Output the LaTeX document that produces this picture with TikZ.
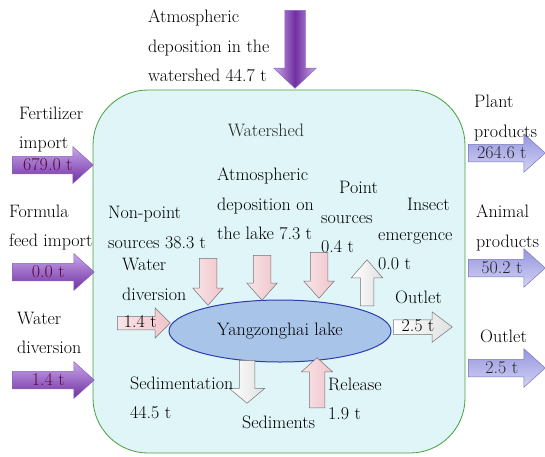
\documentclass[tikz,border=0pt]{standalone}
\usetikzlibrary{shapes.geometric,shapes.arrows}
\definecolor{shedfill}{RGB}{223,245,247}
\definecolor{shedline}{RGB}{70,160,60}
\definecolor{lakefill}{RGB}{168,196,232}
\definecolor{lakeline}{RGB}{45,60,170}
\definecolor{purplelt}{RGB}{200,165,235}
\definecolor{purpledk}{RGB}{112,48,160}
\definecolor{purpleln}{RGB}{140,100,190}
\definecolor{purpletx}{RGB}{90,10,60}
\definecolor{bluedk}{RGB}{150,150,222}
\definecolor{bluelt}{RGB}{210,210,246}
\definecolor{blueln}{RGB}{120,120,190}
\definecolor{pinkfl}{RGB}{240,196,202}
\definecolor{arrgray}{RGB}{115,115,115}
\tikzset{
  lbl/.style={inner sep=0pt,align=left,anchor=west},
  blk/.style n args={3}{single arrow,anchor=tail,draw,line width=.5pt,
    minimum height=#1,inner ysep=#2,single arrow head extend=#3,inner xsep=1pt},
  notext/.style={text height=0pt,text depth=0pt,inner xsep=0pt},
  bigtxt/.style={text height=12pt,text depth=2pt},
  smalltxt/.style={text height=10pt,text depth=1pt},
  purplefill/.style={draw=purpleln,top color=purplelt,bottom color=purpledk,text=purpletx},
  bluefill/.style={draw=blueln,top color=bluedk,bottom color=bluelt,text=black!85},
  pinkfill/.style={draw=arrgray,left color=pinkfl!45!white,right color=pinkfl},
  whitefill/.style={draw=arrgray,left color=white,right color=black!12}
}
\begin{document}
\begin{tikzpicture}[x=1pt,y=1pt,font=\fontsize{18}{29.5}\selectfont]
  \useasboundingbox (0,0) rectangle (545,-456);
  % watershed and lake
  \node[draw=shedline,fill=shedfill,line width=.8pt,rounded corners=55pt,
    minimum width=372pt,minimum height=363pt] (shed) at (279,-271.5) {};
  \node[text=black!85] (wsh) at (266,-130) {Watershed};
  \node[ellipse,draw=lakeline,fill=lakefill,line width=1pt,
    minimum width=222pt,minimum height=62pt,inner sep=0pt] (lake) at (280,-331) {Yangzonghai lake};

  % inputs and outputs of the watershed
  \node[blk={78pt}{10pt}{11pt},notext,rotate=-90,draw=purpleln,left color=purplelt,
    right color=purplelt,middle color=purpledk,single arrow tip angle=93] (atmwarr) at (295,-10) {};
  \node[blk={81pt}{1.5pt}{9.5pt},bigtxt,purplefill,single arrow tip angle=84] (fertarr) at (12,-165) {679.0 t};
  \node[blk={82pt}{1.5pt}{9.5pt},bigtxt,purplefill,single arrow tip angle=84] (feedarr) at (12,-272) {0.0 t};
  \node[blk={82pt}{1.5pt}{9.5pt},bigtxt,purplefill,single arrow tip angle=84] (wdarr) at (12,-380) {1.4 t};
  \node[blk={77pt}{1.5pt}{10.5pt},bigtxt,bluefill,single arrow tip angle=84] (plantarr) at (468,-153) {264.6 t};
  \node[blk={77pt}{1.5pt}{10.5pt},bigtxt,bluefill,single arrow tip angle=84] (animalarr) at (468,-268) {50.2 t};
  \node[blk={77pt}{1.5pt}{10.5pt},bigtxt,bluefill,single arrow tip angle=84] (outarr) at (468,-368) {2.5 t};

  % fluxes of the lake
  \node[blk={47pt}{8.5pt}{6.5pt},notext,rotate=-90,pinkfill,single arrow tip angle=83] (nparr) at (208,-258) {};
  \node[blk={45pt}{8.5pt}{6.5pt},notext,rotate=-90,pinkfill,single arrow tip angle=83] (atmlarr) at (262,-255) {};
  \node[blk={46pt}{8.5pt}{6.5pt},notext,rotate=-90,pinkfill,single arrow tip angle=83] (psarr) at (319,-252) {};
  \node[blk={46pt}{6.5pt}{9pt},notext,rotate=90,whitefill,single arrow tip angle=82] (insarr) at (367,-306) {};
  \node[blk={53pt}{1pt}{8.5pt},smalltxt,pinkfill,single arrow tip angle=90] (wdinarr) at (117,-323) {1.4 t};
  \node[blk={59pt}{1.5pt}{8pt},smalltxt,whitefill,single arrow tip angle=74] (lkoutarr) at (393,-327) {2.5 t};
  \node[blk={43pt}{7.5pt}{10pt},notext,rotate=-90,whitefill,single arrow tip angle=100] (sedarr) at (247,-360) {};
  \node[blk={50pt}{7.5pt}{8pt},notext,rotate=90,pinkfill,single arrow tip angle=96] (relarr) at (317,-408) {};

  % labels
  \node[lbl] (atmwtxt) at (148,-46) {Atmospheric\\deposition in the\\watershed 44.7 t};
  \node[lbl] (ferttxt) at (19,-129.5) {Fertilizer\\import};
  \node[lbl] (feedtxt) at (9,-227.5) {Formula\\feed import};
  \node[lbl] (wdtxt) at (17,-333) {Water\\diversion};
  \node[lbl] (planttxt) at (474,-118) {Plant\\products};
  \node[lbl] (animaltxt) at (476,-228) {Animal\\products};
  \node[lbl] (outtxt) at (480,-336) {Outlet};
  \node[lbl] (nptxt) at (108,-227.5) {Non-point\\sources 38.3 t};
  \node[lbl] (atmltxt) at (217,-204) {Atmospheric\\deposition on\\the lake 7.3 t};
  \node[lbl] (pstxt) at (321,-217) {\hspace*{18pt}Point\\sources\\0.4 t};
  \node[lbl] (instxt) at (378,-234) {\hspace*{29pt}Insect\\emergence\\0.0 t};
  \node[lbl] (wdintxt) at (122,-279.5) {Water\\diversion};
  \node[lbl] (lkouttxt) at (395,-297) {Outlet};
  \node[lbl] (sedtxt) at (130,-398) {Sedimentation\\44.5 t};
  \node[lbl] (sedimtxt) at (242,-422) {Sediments};
  \node[lbl] (reltxt) at (328,-399) {Release\\1.9 t};
\end{tikzpicture}
\end{document}
